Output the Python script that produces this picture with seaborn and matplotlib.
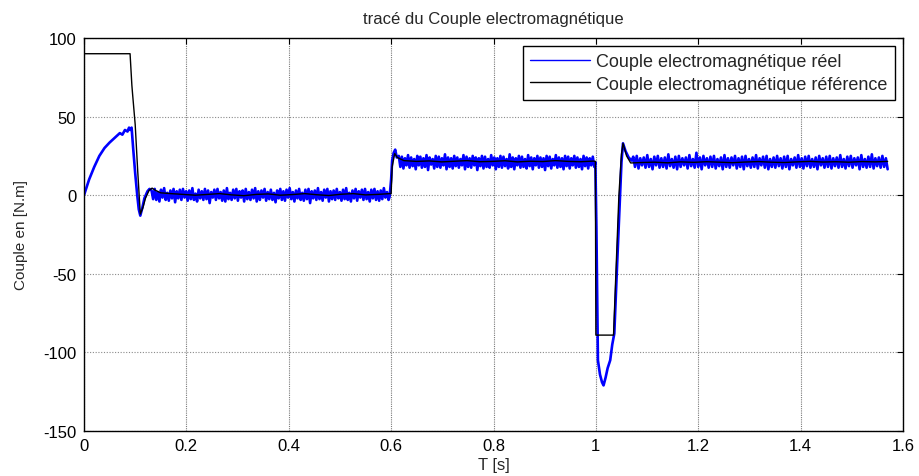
import numpy as np
import pandas as pd
import matplotlib
matplotlib.use("Agg")
import matplotlib.pyplot as plt
import seaborn as sns

# ---------------- data ----------------
# real torque (blue): transient pieces with explicit times, noisy plateaus sampled evenly
blue_start_t = [0, 0.01, 0.02, 0.03, 0.04, 0.05, 0.06, 0.07, 0.075, 0.08, 0.085, 0.088, 0.09, 0.093,
                0.096, 0.1, 0.104, 0.107, 0.11, 0.114, 0.118, 0.124, 0.128]
blue_start_v = [0, 10, 18, 25, 30, 33.5, 36.5, 39.5, 38.5, 41.5, 40.5, 43, 41.5, 43,
                30, 14, 0, -9, -13, -8, -2, 2.5, 4]
blue_seg1 = [3, -2.5, 4, -3, 2, -4, 3.5, -1.5, 4.5, -3, 1.5, -3.5, 3, -2, 4, -4.5, 2.5, -2, 3.5, -3,
             4, -1.5, 2.5, -3.5, 3, -2.5, 4.5, -3, 1, -4, 3.5, -2, 2.5, -3, 4, -2.5, 3, -5, 2, -1.5,
             3.5, -3, 4, -2, 2, -3.5, 3, -4, 4.5, -2.5, 1.5, -3, 3.5, -2, 4, -3.5, 2.5, -1.5, 3, -4,
             4, -2.5, 2, -3, 3.5, -2, 4.5, -4, 2.5, -3, 3, -1.5, 4, -3.5, 2, -2.5, 3.5, -3, 1.5, -4.5,
             3, -2, 4, -3, 2.5, -3.5, 3.5, -1.5, 4.5, -2.5, 2, -4, 3, -2, 4, -3, 1.5, -3.5, 3.5, -2.5,
             4, -5, 2.5, -2, 3, -3, 4.5, -2.5, 2, -3.5, 3.5, -1.5, 4, -4, 2.5, -2.5, 3, -3, 4, -2,
             2, -3.5, 3.5, -2.5, 4.5, -3, 1.5, -4, 3, -2, 4, -3.5, 2.5, -1.5, 3.5, -3, 4, -2.5, 2, -4,
             3.5, -2, 4, -3, 2.5, -3.5, 3, -2.5, 4.5, -1.5, 2, -3]
blue_step1_t = [0.597, 0.6, 0.602, 0.605, 0.608, 0.611]
blue_step1_v = [-1, 10, 22, 27, 29, 24]
blue_seg2 = [25, 18, 24.5, 17, 23.5, 19, 25.5, 17.5, 24, 18.5, 23, 16.5, 25, 19, 24.5, 17.5, 23.5, 18, 25.5, 16,
             24, 19.5, 23, 17, 25, 18, 24.5, 17.5, 23.5, 19, 26, 16.5, 24, 18, 23.5, 17, 25, 18.5, 24, 17.5,
             23, 19, 25.5, 16.5, 24.5, 18, 23.5, 17.5, 25, 19, 24, 16, 23.5, 18.5, 25, 17, 24.5, 18, 23, 17.5,
             25.5, 19, 24, 16.5, 23.5, 18, 25, 17.5, 24.5, 18.5, 23, 17, 26, 18, 24, 16.5, 23.5, 19, 25, 17.5,
             24.5, 18, 23, 17, 25.5, 18.5, 24, 16.5, 23.5, 19, 25, 17.5, 24, 18, 23.5, 16, 25, 18.5, 24.5, 17,
             23, 19, 25.5, 17.5, 24, 18, 23.5, 16.5, 25, 18.5, 24.5, 17, 23.5, 19, 25, 17.5, 24, 18, 23, 16.5,
             25, 18.5, 24, 17, 23.5, 19, 24.5, 18]
blue_step2_t = [0.999, 1.001, 1.004, 1.008, 1.012, 1.015, 1.019, 1.023, 1.028, 1.032, 1.036, 1.041,
                1.046, 1.05, 1.053, 1.058, 1.064, 1.07]
blue_step2_v = [21, -20, -105, -114, -119, -121, -116, -110, -105, -95, -88, -48,
                -10, 21, 33, 28, 24, 22]
blue_seg3 = [24.5, 18, 25, 17, 23.5, 19, 24, 17.5, 25.5, 18, 23, 16.5, 24.5, 19, 25, 17.5, 23.5, 18, 24, 17,
             26, 18.5, 23, 17.5, 24.5, 16.5, 25, 18, 23.5, 19, 24, 17, 25.5, 18.5, 23, 17.5, 27, 18, 24, 16.5,
             25, 19, 23.5, 17.5, 24.5, 18, 25, 17, 23, 18.5, 24, 16.5, 25.5, 18, 23.5, 17.5, 24, 19, 25, 17,
             23.5, 18, 24.5, 16.5, 25, 18.5, 23, 17.5, 24, 18, 25.5, 17, 23.5, 19, 24.5, 17.5, 25, 16.5, 23, 18,
             24, 17.5, 25, 18.5, 23.5, 17, 24.5, 18, 25, 16.5, 23, 19, 24, 17.5, 25.5, 18, 23.5, 17, 24.5, 18.5,
             25, 17.5, 23, 18, 24, 16.5, 25, 19, 23.5, 17.5, 24.5, 18, 25, 17, 23.5, 18.5, 24, 17.5, 25.5, 18,
             23, 17, 24.5, 18.5, 25, 17.5, 23.5, 19, 24, 16.5, 25.5, 18, 23, 17.5, 24.5, 18, 26, 17, 23.5, 18.5,
             24, 17.5, 25, 18, 23.5, 16.5]

# reference torque (black)
blk_start_t = [0, 0.09, 0.0935, 0.095, 0.1, 0.105, 0.11, 0.115, 0.12, 0.127, 0.133, 0.14, 0.15]
blk_start_v = [90, 90, 70, 64, 45, 15, -12, -8, -2, 3, 4.5, 3, 1.5]
blk_seg1 = [1, 0.5, 0, 0.5, 1, 0.2, -0.3, 0.5, 0.8, 0, 0.4, 1, 0.3, -0.2, 0.6, 1, 0.2, 0.5, 1]
blk_step1_t = [0.6, 0.602, 0.607, 0.612]
blk_step1_v = [1, 18, 26.5, 24]
blk_seg2 = [22, 21.5, 21.8, 21.2, 21.6, 22, 21.3, 21.5, 21.9, 21.2, 21.6, 21.4, 22, 21.5, 21.3, 21.7]
blk_step2_t = [0.999, 1.0, 1.0345, 1.038, 1.045, 1.05, 1.053, 1.06, 1.068]
blk_step2_v = [21.5, -89, -89, -59, 0, 26, 33, 25, 20.5]
blk_seg3 = [20.8, 21, 20.6, 21.2, 20.9, 21.3, 21, 20.7, 21.1, 21.4, 21, 20.8, 21.2, 21.5, 21.1,
            21.3, 21, 21.4, 21.2, 21.5]

x_ticks = [0, 0.2, 0.4, 0.6, 0.8, 1, 1.2, 1.4, 1.6]
x_tick_labels = ["0", "0.2", "0.4", "0.6", "0.8", "1", "1.2", "1.4", "1.6"]
y_ticks = [-150, -100, -50, 0, 50, 100]
labels = ["Couple electromagnétique réel", "Couple electromagnétique référence"]


def even(t0, t1, vals):
    return list(np.linspace(t0, t1, len(vals)))


t_reel = (blue_start_t + even(0.132, 0.595, blue_seg1) + blue_step1_t
          + even(0.615, 0.997, blue_seg2) + blue_step2_t + even(1.073, 1.57, blue_seg3))
v_reel = blue_start_v + blue_seg1 + blue_step1_v + blue_seg2 + blue_step2_v + blue_seg3

t_ref = (blk_start_t + even(0.17, 0.597, blk_seg1) + blk_step1_t
         + even(0.625, 0.995, blk_seg2) + blk_step2_t + even(1.09, 1.57, blk_seg3))
v_ref = blk_start_v + blk_seg1 + blk_step1_v + blk_seg2 + blk_step2_v + blk_seg3

df_reel = pd.DataFrame({"T": t_reel, "C": v_reel})
df_ref = pd.DataFrame({"T": t_ref, "C": v_ref})

# ---------------- plot ----------------
sns.set_style("white")
plt.rcParams["font.family"] = ["Liberation Sans", "DejaVu Sans"]
plt.rcParams["axes.unicode_minus"] = False

fig = plt.figure(figsize=(9.19, 4.77), dpi=100)
ax = fig.add_axes([84 / 919, 45 / 477, 819 / 919, 393 / 477])

sns.lineplot(data=df_reel, x="T", y="C", ax=ax, color="#0000ff", lw=1.9,
             estimator=None, sort=False, label=labels[0])
sns.lineplot(data=df_ref, x="T", y="C", ax=ax, color="black", lw=1.0,
             estimator=None, sort=False, label=labels[1])

ax.set_xlim(0, 1.6)
ax.set_ylim(-150, 100)
ax.set_xticks(x_ticks)
ax.set_xticklabels(x_tick_labels)
ax.set_yticks(y_ticks)
ax.xaxis.grid(True, color="#7a7a7a", linestyle=(0, (1, 1)), lw=0.8)
ax.yaxis.grid(True, color="#8a8a8a", linestyle=(0, (1, 1.5)), lw=0.8)
ax.set_axisbelow(True)
for s in ax.spines.values():
    s.set_color("black")
    s.set_linewidth(1.0)
ax.tick_params(direction="in", top=True, right=True, length=4, width=0.8,
               labelsize=12, colors="black")
ax.tick_params(axis="x", pad=5)
ax.tick_params(axis="y", pad=5.5)

ax.set_title("tracé du Couple electromagnétique", fontsize=12, pad=11)
ax.set_xlabel("T [s]", fontsize=12, labelpad=3)
ax.set_ylabel("Couple en [N.m]", fontsize=11, labelpad=11)

leg = ax.legend(loc="upper right", fontsize=13, frameon=True, fancybox=False,
                edgecolor="black", framealpha=1, handlelength=3.3, borderaxespad=0.45,
                borderpad=0.4, labelspacing=0.3, handletextpad=0.35)
leg.get_frame().set_linewidth(1.0)
for h in leg.get_lines():
    h.set_linewidth(1.0)

fig.savefig("out.png", dpi=100, facecolor="white")
